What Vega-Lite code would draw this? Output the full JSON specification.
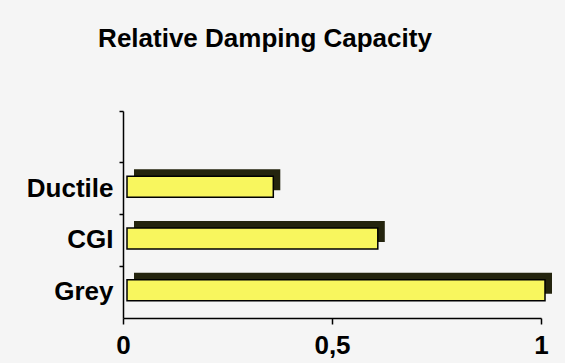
{
  "$schema": "https://vega.github.io/schema/vega-lite/v6.json",
  "autosize": {"type": "none"},
  "width": 418,
  "height": 207,
  "padding": {"left": 123, "top": 111, "right": 24, "bottom": 45},
  "background": "#f5f5f5",
  "title": {
    "text": "Relative Damping Capacity",
    "anchor": "middle",
    "dx": -67,
    "offset": 37,
    "baseline": "alphabetic",
    "font": "Liberation Sans",
    "fontSize": 26,
    "fontWeight": "bold",
    "color": "#000000"
  },
  "data": {
    "values": [
      {"iron": "Ductile", "damping": 0.35},
      {"iron": "CGI", "damping": 0.6},
      {"iron": "Grey", "damping": 1.0}
    ]
  },
  "encoding": {
    "y": {
      "field": "iron",
      "type": "nominal",
      "scale": {"domain": [" ", "Ductile", "CGI", "Grey"], "paddingInner": 0, "paddingOuter": 0},
      "axis": {
        "title": null,
        "bandPosition": 0,
        "tickSize": 4,
        "tickWidth": 1.5,
        "tickColor": "#000000",
        "domainColor": "#000000",
        "domainWidth": 1.5,
        "labelPadding": 6,
        "labelFont": "Liberation Sans",
        "labelFontSize": 26,
        "labelFontWeight": "bold",
        "labelColor": "#000000",
        "grid": false
      }
    },
    "x": {
      "field": "damping",
      "type": "quantitative",
      "scale": {"domain": [0, 1], "nice": false},
      "axis": {
        "title": null,
        "values": [0, 0.5, 1],
        "labelExpr": "replace(format(datum.value, '.1~f'), '.', ',')",
        "tickSize": 6,
        "tickWidth": 1.5,
        "tickColor": "#000000",
        "domainColor": "#000000",
        "domainWidth": 1.5,
        "labelPadding": 8,
        "labelFlush": false,
        "labelFont": "Liberation Sans",
        "labelFontSize": 26,
        "labelFontWeight": "bold",
        "labelColor": "#000000",
        "grid": false
      }
    }
  },
  "layer": [
    {
      "mark": {"type": "bar", "height": 21, "xOffset": 11, "yOffset": -9, "color": "#24240e", "cornerRadius": 0}
    },
    {
      "mark": {"type": "bar", "height": 21, "xOffset": 4, "yOffset": -2, "color": "#f8f65e", "stroke": "#000000", "strokeWidth": 1.5}
    }
  ],
  "config": {"view": {"stroke": null}}
}
